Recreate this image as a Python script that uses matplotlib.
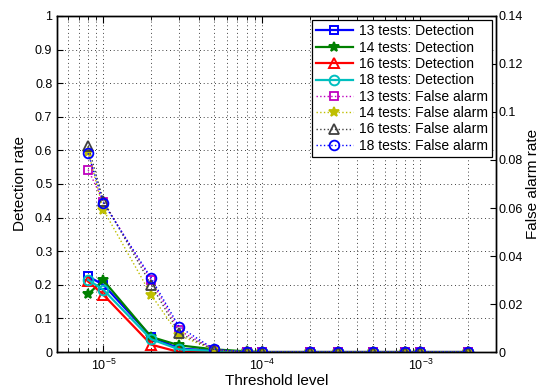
import matplotlib
matplotlib.use("Agg")
import matplotlib.pyplot as plt
from matplotlib.ticker import FixedLocator, FuncFormatter, LogLocator, NullFormatter

plt.rcParams['font.family'] = ['Liberation Sans', 'DejaVu Sans']
plt.rcParams['mathtext.fontset'] = 'custom'
plt.rcParams['mathtext.rm'] = 'Liberation Sans'

# Threshold levels
thresholds = [8e-6, 1e-5, 2e-5, 3e-5, 5e-5, 8e-5, 1e-4, 2e-4, 3e-4, 5e-4, 8e-4, 1e-3, 2e-3]

# Detection rates (left axis)
det_13 = [0.225, 0.200, 0.046, 0.010, 0.005, 0.0, 0.0, 0.0, 0.0, 0.0, 0.0, 0.0, 0.0]
det_14 = [0.173, 0.213, 0.045, 0.020, 0.008, 0.002, 0.0, 0.0, 0.0, 0.0, 0.0, 0.0, 0.0]
det_16 = [0.210, 0.170, 0.022, 0.000, 0.0, 0.0, 0.0, 0.0, 0.0, 0.0, 0.0, 0.0, 0.0]
det_18 = [0.215, 0.185, 0.038, 0.008, 0.003, 0.0, 0.0, 0.0, 0.0, 0.0, 0.0, 0.0, 0.0]

# False alarm rates (right axis)
fa_13 = [0.0760, 0.0626, 0.0300, 0.0090, 0.0010, 0.0, 0.0, 0.0, 0.0, 0.0, 0.0, 0.0, 0.0]
fa_14 = [0.0835, 0.0592, 0.0238, 0.0070, 0.0008, 0.0, 0.0, 0.0, 0.0, 0.0, 0.0, 0.0, 0.0]
fa_16 = [0.0858, 0.0629, 0.0280, 0.0079, 0.0010, 0.0, 0.0, 0.0, 0.0, 0.0, 0.0, 0.0, 0.0]
fa_18 = [0.0828, 0.0620, 0.0308, 0.0105, 0.0012, 0.0, 0.0, 0.0, 0.0, 0.0, 0.0, 0.0, 0.0]

det_labels = ['13 tests: Detection', '14 tests: Detection', '16 tests: Detection', '18 tests: Detection']
fa_labels = ['13 tests: False alarm', '14 tests: False alarm', '16 tests: False alarm', '18 tests: False alarm']

det_y_ticks = [0, 0.1, 0.2, 0.3, 0.4, 0.5, 0.6, 0.7, 0.8, 0.9, 1.0]
fa_y_ticks = [0, 0.02, 0.04, 0.06, 0.08, 0.10, 0.12, 0.14]

fig = plt.figure(figsize=(5.44, 3.89), dpi=100)
ax1 = fig.add_axes([0.105, 0.095, 0.807, 0.864])
ax2 = ax1.twinx()

det_styles = [
    dict(color='#0000ff', marker='s', ms=6, filled=False),
    dict(color='#008000', marker='*', ms=7, filled=True),
    dict(color='#ff0000', marker='^', ms=7, filled=False),
    dict(color='#00bfbf', marker='o', ms=7, filled=False),
]
fa_styles = [
    dict(color='#bf00bf', marker='s', ms=6, filled=False),
    dict(color='#bfbf00', marker='*', ms=7, filled=True),
    dict(color='#404040', marker='^', ms=7, filled=False),
    dict(color='#0000ff', marker='o', ms=7, filled=False),
]

handles = []
for vals, lab, st in zip([det_13, det_14, det_16, det_18], det_labels, det_styles):
    h, = ax1.plot(thresholds, vals, '-', color=st['color'], lw=1.6,
                  marker=st['marker'], ms=st['ms'],
                  mfc=st['color'] if st['filled'] else 'none', mec=st['color'], mew=1.4,
                  label=lab)
    handles.append(h)
for vals, lab, st in zip([fa_13, fa_14, fa_16, fa_18], fa_labels, fa_styles):
    h, = ax2.plot(thresholds, vals, ':', color=st['color'], lw=1.0,
                  marker=st['marker'], ms=st['ms'],
                  mfc=st['color'] if st['filled'] else 'none', mec=st['color'], mew=1.3,
                  label=lab)
    handles.append(h)

ax1.set_xscale('log')
ax1.set_xlim(5.1e-6, 3.0e-3)
ax1.set_ylim(0, 1)
ax2.set_ylim(0, 0.14)

ax1.xaxis.set_major_locator(FixedLocator([1e-5, 1e-4, 1e-3]))
ax1.xaxis.set_minor_locator(LogLocator(base=10, subs=range(2, 10)))
ax1.xaxis.set_minor_formatter(NullFormatter())
ax1.set_yticks(det_y_ticks)
ax1.yaxis.set_major_formatter(FuncFormatter(lambda v, p: '%g' % v))
ax2.set_yticks(fa_y_ticks)
ax2.yaxis.set_major_formatter(FuncFormatter(lambda v, p: '%g' % round(v, 2)))

ax1.grid(True, which='both', axis='x', linestyle=(0, (1, 3.5)), color='k', lw=0.6)
ax1.grid(True, which='major', axis='y', linestyle=(0, (1, 3.5)), color='k', lw=0.6)

ax1.tick_params(axis='both', which='both', direction='in', top=True, labelsize=9)
ax1.tick_params(axis='x', which='major', length=5, pad=4)
ax1.tick_params(axis='x', which='minor', length=3)
ax1.tick_params(axis='y', which='major', length=4)
ax2.tick_params(axis='y', direction='in', labelsize=9, length=4, pad=2)

for ax in (ax1, ax2):
    for s in ax.spines.values():
        s.set_linewidth(1.0)

ax1.set_xlabel('Threshold level', fontsize=11, labelpad=1)
ax1.set_ylabel('Detection rate', fontsize=11, labelpad=6)
ax2.set_ylabel('False alarm rate', fontsize=11, labelpad=2)

leg = ax2.legend(handles=handles, loc='upper right', fontsize=10, frameon=True,
                 fancybox=False, framealpha=1, edgecolor='k', borderaxespad=0.3,
                 handlelength=2.7, labelspacing=0.17, borderpad=0.3, handletextpad=0.4)
leg.get_frame().set_linewidth(0.9)

fig.savefig('out.png', dpi=100)
